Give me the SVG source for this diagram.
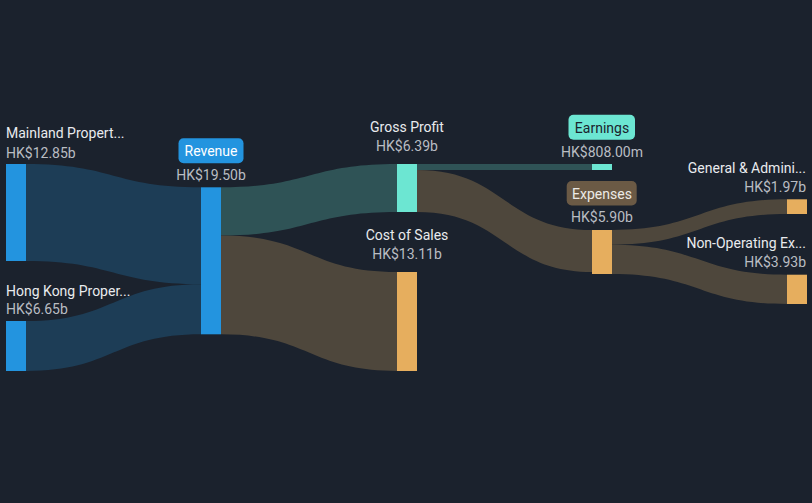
<svg xmlns="http://www.w3.org/2000/svg" width="812" height="503" viewBox="0 0 812 503">
<style>
text{font-family:Roboto,"Liberation Sans",sans-serif;font-size:14px}
.n{fill:#e9ebee}
.v{fill:#b9bdc3}
.m{text-anchor:middle}
.e{text-anchor:end}
.lb{fill:#1d3d56}
.lt{fill:#2f5356}
.lr{fill:#4e473c}
.cb{fill:#2394df}
.ct{fill:#6ce6d2}
.co{fill:#e6ae5e}
</style>
<rect width="812" height="503" fill="#1b222d"/>
<g id="connectors">
<path class="lb" d="M26,164 C113.5,164 113.5,187.3 201,187.3 L201,284.2 C113.5,284.2 113.5,261 26,261 Z"/>
<path class="lb" d="M26,321 C113.5,321 113.5,284.2 201,284.2 L201,334.3 C113.5,334.3 113.5,371 26,371 Z"/>
<path class="lt" d="M221,187.3 C309,187.3 309,164 397,164 L397,212 C309,212 309,235.5 221,235.5 Z"/>
<path class="lr" d="M221,235.5 C309,235.5 309,272 397,272 L397,371 C309,371 309,334.3 221,334.3 Z"/>
<path class="lt" d="M417,164 C504.5,164 504.5,164 592,164 L592,170 C504.5,170 504.5,170 417,170 Z"/>
<path class="lr" d="M417,170 C504.5,170 504.5,230 592,230 L592,272 C504.5,272 504.5,212 417,212 Z"/>
<path class="lr" d="M612,230 C699.5,230 699.5,199.3 787,199.3 L787,214 C699.5,214 699.5,244.7 612,244.7 Z"/>
<path class="lr" d="M612,244.7 C699.5,244.7 699.5,274.7 787,274.7 L787,304 C699.5,304 699.5,274 612,274 Z"/>
</g>
<g id="mainland">
<rect class="cb" x="6" y="164" width="20" height="97"/>
<text class="n" x="6" y="138">Mainland Propert...</text>
<text class="v" x="6" y="158">HK$12.85b</text>
</g>
<g id="hongkong">
<rect class="cb" x="6" y="321" width="20" height="50"/>
<text class="n" x="6" y="296">Hong Kong Proper...</text>
<text class="v" x="6" y="314">HK$6.65b</text>
</g>
<g id="revenue">
<rect class="cb" x="201" y="187.3" width="20" height="147"/>
<rect class="cb" x="178.5" y="138.3" width="65" height="25" rx="5"/>
<text class="m" x="211" y="156" fill="#ffffff">Revenue</text>
<text class="v m" x="211" y="180">HK$19.50b</text>
</g>
<g id="grossprofit">
<rect class="ct" x="397" y="164" width="20" height="48"/>
<text class="n m" x="407" y="132">Gross Profit</text>
<text class="v m" x="407" y="151">HK$6.39b</text>
</g>
<g id="costofsales">
<rect class="co" x="397" y="272" width="20" height="99"/>
<text class="n m" x="407" y="240">Cost of Sales</text>
<text class="v m" x="407" y="259">HK$13.11b</text>
</g>
<g id="earnings">
<rect class="ct" x="592" y="164" width="20" height="6"/>
<rect class="ct" x="568.5" y="114.7" width="66.5" height="25" rx="5"/>
<text class="m" x="602" y="132.5" fill="#1b222d">Earnings</text>
<text class="v m" x="602" y="157">HK$808.00m</text>
</g>
<g id="expenses">
<rect class="co" x="592" y="230" width="20" height="44"/>
<rect x="566.7" y="181" width="70" height="24.5" rx="5" fill="#6b5a45"/>
<text class="m" x="602" y="198.5" fill="#eceae6">Expenses</text>
<text class="v m" x="602" y="222">HK$5.90b</text>
</g>
<g id="general">
<rect class="co" x="787" y="199.3" width="20" height="14.7"/>
<text class="n e" x="806" y="173">General &amp; Admini...</text>
<text class="v e" x="806" y="192">HK$1.97b</text>
</g>
<g id="nonoperating">
<rect class="co" x="787" y="274.7" width="20" height="29.3"/>
<text class="n e" x="806" y="248">Non-Operating Ex...</text>
<text class="v e" x="806" y="267">HK$3.93b</text>
</g>
</svg>
